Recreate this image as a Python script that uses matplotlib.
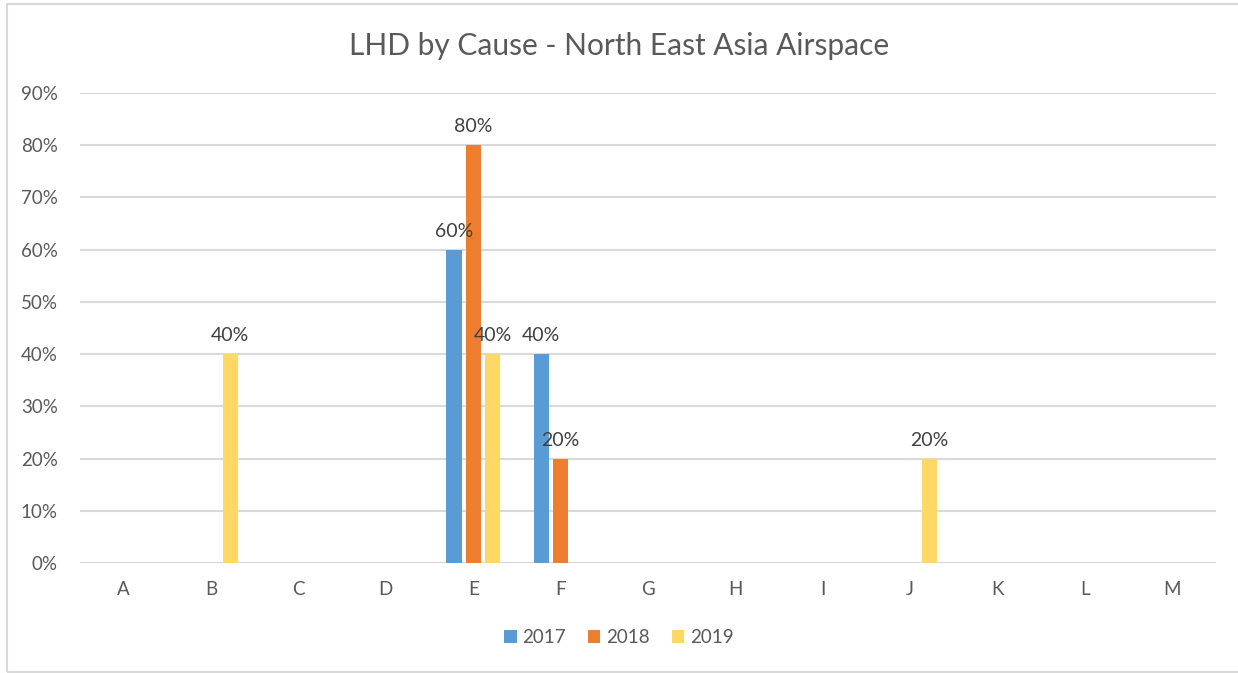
import matplotlib.pyplot as plt
import numpy as np
from matplotlib.patches import Rectangle

categories = ["A", "B", "C", "D", "E", "F", "G", "H", "I", "J", "K", "L", "M"]
years = ["2017", "2018", "2019"]
v2017 = [0, 0, 0, 0, 0.60, 0.40, 0, 0, 0, 0, 0, 0, 0]
v2018 = [0, 0, 0, 0, 0.80, 0.20, 0, 0, 0, 0, 0, 0, 0]
v2019 = [0, 0.40, 0, 0, 0.40, 0, 0, 0, 0, 0.20, 0, 0, 0]
colors = ["#5B9BD5", "#ED7D31", "#FFD966"]

plt.rcParams['font.family'] = ['Lato', 'DejaVu Sans']
txt = "#595959"

fig = plt.figure(figsize=(12.38, 6.73), dpi=100)
ax = fig.add_axes([0.0646, 0.1634, 0.9176, 0.6986])

x = np.arange(len(categories))
width = 0.175
offset = 0.22
for i, (vals, c, lab) in enumerate(zip([v2017, v2018, v2019], colors, years)):
    bars = ax.bar(x + (i - 1) * offset, vals, width, color=c, label=lab, zorder=3)
    for b, v in zip(bars, vals):
        if v > 0:
            ax.annotate(f"{v:.0%}", (b.get_x() + b.get_width() / 2, v),
                        xytext=(0, 7), textcoords="offset points",
                        ha="center", va="bottom", fontsize=14, color="#404040", zorder=4)

ax.set_xlim(-0.5, len(categories) - 0.5)
ax.set_ylim(0, 0.9)
ax.set_yticks(np.arange(0, 0.91, 0.1))
ax.set_yticklabels([f"{t:.0%}" for t in np.arange(0, 0.91, 0.1)])
ax.set_xticks(x)
ax.set_xticklabels(categories)
ax.tick_params(length=0, labelsize=13.5, colors=txt)
ax.tick_params(axis="x", pad=13)
ax.tick_params(axis="y", pad=16)
ax.grid(axis="y", color="#D9D9D9", linewidth=1.5, zorder=0)
for s in ax.spines.values():
    s.set_visible(False)

fig.text(0.5, 0.932, "LHD by Cause - North East Asia Airspace", ha="center", va="center",
         fontsize=21.5, color=txt)

fig.legend(loc="center", bbox_to_anchor=(0.5, 0.053), ncol=3, frameon=False,
           fontsize=13.5, handlelength=0.65, handleheight=0.65, handletextpad=0.3,
           columnspacing=1.2, labelcolor=txt)

# light frame around the chart area
fig.patches.append(Rectangle((7 / 1238, 0.002), 1.0, 0.992, transform=fig.transFigure,
                             fill=False, edgecolor="#D9D9D9", linewidth=1.5))

fig.savefig("out.png", dpi=100)
